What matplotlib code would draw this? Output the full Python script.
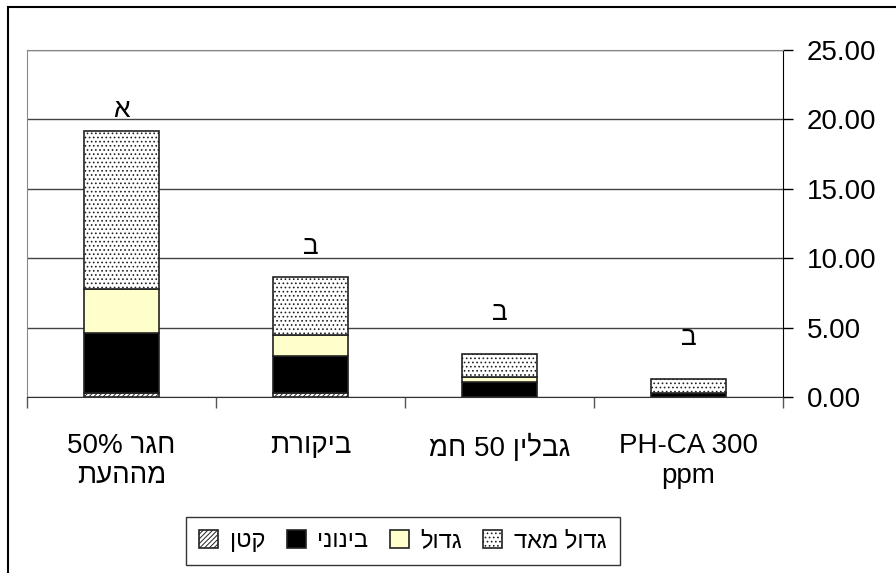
import numpy as np
import matplotlib
matplotlib.use('Agg')
import matplotlib.pyplot as plt
from matplotlib.patches import Rectangle

plt.rcParams['font.family'] = ['Liberation Sans', 'DejaVu Sans']
plt.rcParams['hatch.linewidth'] = 0.7

# data
categories = ['חגר 50%\nמההעת', 'ביקורת', 'גבלין 50 חמ', 'PH-CA 300\nppm']
small = [0.3, 0.3, 0.0, 0.0]
medium = [4.35, 2.7, 1.12, 0.29]
large = [3.15, 1.45, 0.37, 0.0]
very_large = [11.4, 4.2, 1.61, 1.05]
series_names = ['קטן', 'בינוני', 'גדול', 'גדול מאד']
sig_letters = ['א', 'ב', 'ב', 'ב']
letter_y = [20.7, 10.8, 6.1, 4.3]


def is_heb(s):
    return any('\u0590' <= c <= '\u05ff' for c in s)


def rtl(text):
    # matplotlib has no bidi, so put hebrew lines in visual order by hand
    out = []
    for line in text.split('\n'):
        if not is_heb(line):
            out.append(line)
            continue
        words = line.split(' ')
        words = [w[::-1] if is_heb(w) else w for w in words]
        out.append(' '.join(words[::-1]))
    return '\n'.join(out)


fig = plt.figure(figsize=(8.96, 5.73), dpi=100)
ax = fig.add_axes([27/896, 1-397.3/573, (783-27)/896, (397.3-50)/573])

x = np.arange(len(categories))
w = 0.4
bottom = np.zeros(len(x))
styles = [
    dict(color='white', hatch='///////'),
    dict(color='black', hatch=None),
    dict(color='#FFFFCC', hatch=None),
    dict(color='white', hatch='....'),
]
for vals, name, st in zip([small, medium, large, very_large], series_names, styles):
    ax.bar(x, vals, w, bottom=bottom, color=st['color'], hatch=st['hatch'],
           edgecolor='#222222', linewidth=1.2, label=rtl(name), zorder=3)
    bottom += np.array(vals)

for xi, letter, ly in zip(x, sig_letters, letter_y):
    ax.text(xi, ly, letter, ha='center', va='center', fontsize=19)

ax.set_xlim(-0.5, 3.5)
ax.set_ylim(0, 25)
ax.set_yticks(np.arange(0, 26, 5))
ax.yaxis.set_major_formatter(matplotlib.ticker.FormatStrFormatter('%.2f'))
ax.yaxis.tick_right()
ax.tick_params(axis='y', direction='out', length=7, width=1, labelsize=20, pad=10)
ax.grid(axis='y', color='#444444', linewidth=1, zorder=0)

ax.set_xticks(np.arange(-0.5, 4, 1))
ax.set_xticklabels([])
ax.set_xticks(x, minor=True)
ax.set_xticklabels([rtl(c) for c in categories], minor=True, fontsize=20)
ax.tick_params(axis='x', which='major', direction='out', length=8, width=1, color='#555555')
ax.tick_params(axis='x', which='minor', length=0, pad=26)

ax.spines['left'].set_color('#888888')
ax.spines['top'].set_color('#888888')
ax.spines['right'].set_color('black')
ax.spines['bottom'].set_color('#333333')

leg = fig.legend(loc='center', bbox_to_anchor=(403/896, 1-541/573), ncol=4,
                 fontsize=17, frameon=True, fancybox=False, edgecolor='black',
                 handlelength=0.8, handleheight=0.8, handletextpad=0.5,
                 columnspacing=0.9, borderpad=0.55)
leg.get_frame().set_linewidth(1)

fig.add_artist(Rectangle((8/896, -0.1), 2, 1 - 7/573 + 0.1, transform=fig.transFigure,
                         fill=False, edgecolor='black', linewidth=1.5))

fig.savefig('out.png', dpi=100)
